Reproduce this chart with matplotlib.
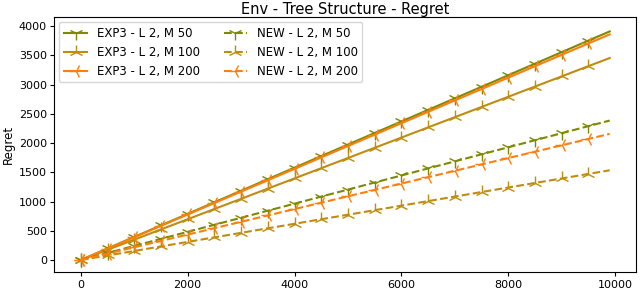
import matplotlib
matplotlib.use("Agg")
import matplotlib.pyplot as plt

steps = [0, 500, 1000, 1500, 2000, 2500, 3000, 3500, 4000, 4500, 5000,
         5500, 6000, 6500, 7000, 7500, 8000, 8500, 9000, 9500, 9900]

exp3_m50 = [0, 198, 395, 593, 790, 988, 1185, 1383, 1580, 1778, 1975,
            2173, 2370, 2568, 2765, 2963, 3160, 3358, 3555, 3753, 3910]
exp3_m100 = [0, 175, 349, 524, 698, 873, 1047, 1222, 1396, 1571, 1745,
             1920, 2094, 2269, 2443, 2618, 2792, 2967, 3141, 3316, 3455]
exp3_m200 = [0, 195, 390, 585, 780, 975, 1170, 1365, 1560, 1755, 1950,
             2145, 2340, 2535, 2730, 2925, 3120, 3315, 3510, 3705, 3860]
new_m50 = [0, 121, 241, 362, 482, 603, 723, 844, 964, 1085, 1205,
           1326, 1446, 1567, 1687, 1808, 1928, 2049, 2169, 2290, 2386]
new_m100 = [0, 78, 155, 233, 310, 388, 465, 543, 620, 698, 775,
            853, 930, 1008, 1085, 1163, 1240, 1318, 1395, 1473, 1535]
new_m200 = [0, 109, 218, 327, 436, 545, 654, 763, 872, 981, 1090,
            1199, 1308, 1417, 1526, 1635, 1744, 1853, 1962, 2071, 2158]

olive = "#7d8a00"
gold = "#c08c10"
orange = "#ff7f0e"

plt.rcParams["font.size"] = 8.5
plt.rcParams["xtick.labelsize"] = 8
plt.rcParams["ytick.labelsize"] = 8
plt.rcParams["xtick.major.pad"] = 2.5
plt.rcParams["ytick.major.pad"] = 2.5
plt.rcParams["xtick.major.size"] = 3
plt.rcParams["ytick.major.size"] = 3

fig, ax = plt.subplots(figsize=(6.4, 2.9), dpi=100)
fig.subplots_adjust(left=0.085, right=0.994, top=0.94, bottom=0.062)
marks = list(range(len(steps) - 1))

ax.plot(steps, exp3_m50, color=olive, marker="1", markersize=10, markevery=marks, label="EXP3 - L 2, M 50")
ax.plot(steps, exp3_m100, color=gold, marker="2", markersize=10, markevery=marks, label="EXP3 - L 2, M 100")
ax.plot(steps, exp3_m200, color=orange, marker="3", markersize=10, markevery=marks, label="EXP3 - L 2, M 200")
ax.plot(steps, new_m50, color=olive, ls="--", marker="1", markersize=10, markevery=marks, label="NEW - L 2, M 50")
ax.plot(steps, new_m100, color=gold, ls="--", marker="2", markersize=10, markevery=marks, label="NEW - L 2, M 100")
ax.plot(steps, new_m200, color=orange, ls="--", marker="3", markersize=10, markevery=marks, label="NEW - L 2, M 200")

ax.set_title("Env - Tree Structure - Regret", fontsize=10.5, pad=2)
ax.set_ylabel("Regret", labelpad=3)
ax.set_yticks(range(0, 4001, 500))
ax.set_ylim(-205, 4150)
ax.legend(ncol=2, loc="upper left", borderaxespad=0.4)

fig.savefig("out.png")
